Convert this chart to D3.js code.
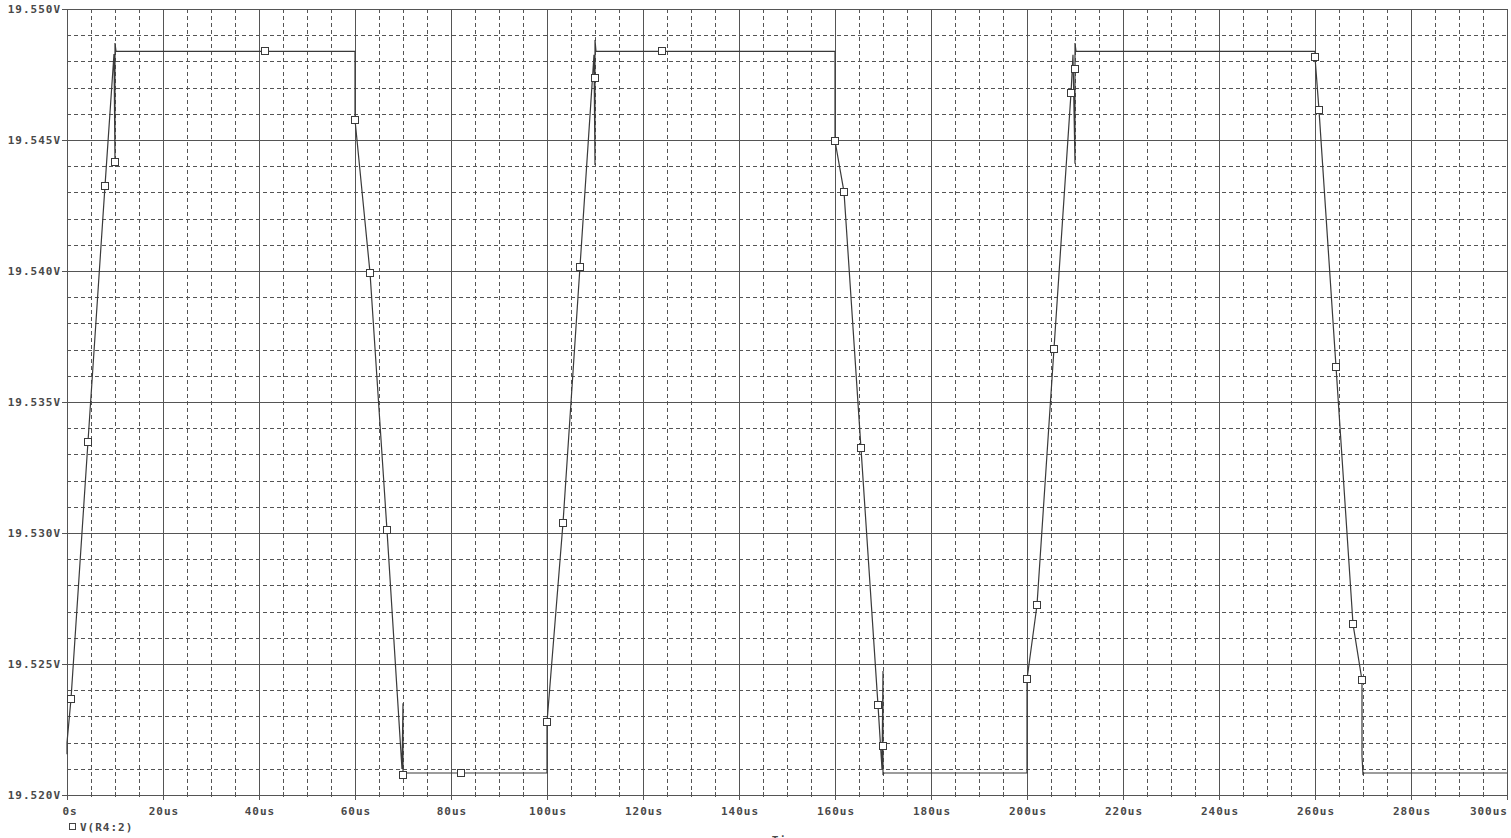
<!DOCTYPE html>
<html>
<head>
<meta charset="utf-8">
<script src="https://cdn.jsdelivr.net/npm/d3@7/dist/d3.min.js"></script>
<style>
  html, body { margin: 0; padding: 0; background: #fff; }
  svg { display: block; }
  text { font-family: "DejaVu Sans Mono", monospace; font-size: 11px; font-weight: bold; letter-spacing: 1px; fill: #484848; }
</style>
</head>
<body>
<svg id="chart" width="1511" height="838"></svg>
<script>
// ---- Data (time in microseconds, voltage in volts) ----
const timeUs = [
  0, 0, 0.83, 4.375, 7.917, 9.79, 10, 10, 10.21,
  60, 60, 63.125, 66.667, 69.79, 70, 70, 70.21,
  100, 100, 100, 103.33, 106.875, 109.79, 110, 110, 110, 110.21,
  160, 160, 161.875, 165.417, 168.958, 169.79, 170, 170, 170, 170.21,
  200, 200, 200, 202.08, 205.625, 209.17, 209.58, 210, 210, 210, 210.21,
  260, 260, 260.83, 264.375, 267.92, 269.79, 269.79, 270, 270.21,
  300
];
const volts = [
  19.52156, 19.52200, 19.52366, 19.53349, 19.54325, 19.54828, 19.54417, 19.54870, 19.54838,
  19.54838, 19.54577, 19.53994, 19.53010, 19.52099, 19.52350, 19.52076, 19.52084,
  19.52084, 19.52156, 19.52278, 19.53037, 19.54017, 19.54825, 19.54405, 19.54737, 19.54882, 19.54838,
  19.54838, 19.54497, 19.54302, 19.53323, 19.52343, 19.52099, 19.52473, 19.52187, 19.52076, 19.52084,
  19.52084, 19.52156, 19.52442, 19.52724, 19.53704, 19.54680, 19.54825, 19.54409, 19.54771, 19.54870, 19.54838,
  19.54838, 19.54817, 19.54615, 19.53635, 19.52652, 19.52438, 19.52149, 19.52076, 19.52084,
  19.52084
];
// symbol markers placed on the trace
const markerTimeUs = [0.83, 4.375, 7.917, 10, 41.25, 60, 63.125, 66.667, 70, 82.08,
  100, 103.33, 106.875, 110, 123.96, 160, 161.875, 165.417, 168.958, 170,
  200, 202.08, 205.625, 209.17, 210, 260, 260.83, 264.375, 267.92, 269.79];
const markerVolts = [19.52366, 19.53349, 19.54325, 19.54417, 19.54838, 19.54577, 19.53994, 19.53010, 19.52076, 19.52084,
  19.52278, 19.53037, 19.54017, 19.54737, 19.54838, 19.54497, 19.54302, 19.53323, 19.52343, 19.52187,
  19.52442, 19.52724, 19.53704, 19.54680, 19.54771, 19.54817, 19.54615, 19.53635, 19.52652, 19.52438];

const xTickValues = [0, 20, 40, 60, 80, 100, 120, 140, 160, 180, 200, 220, 240, 260, 280, 300];
const xTickLabels = ["0s", "20us", "40us", "60us", "80us", "100us", "120us", "140us", "160us", "180us", "200us", "220us", "240us", "260us", "280us", "300us"];
const yTickValues = [19.520, 19.525, 19.530, 19.535, 19.540, 19.545, 19.550];
const yTickLabels = ["19.520V", "19.525V", "19.530V", "19.535V", "19.540V", "19.545V", "19.550V"];
const seriesName = "V(R4:2)";
const xTitle = "Time";

// ---- Layout ----
const L = 67, R = 1507, T = 9, B = 795;
const gridColor = "#555";
const traceColor = "#3a3a3a";

const svg = d3.select("#chart");
const x = d3.scaleLinear().domain([0, 300]).range([L, R]);
const y = d3.scaleLinear().domain([19.520, 19.550]).range([B, T]);
const px = v => Math.round(v) + 0.5;

// minor grid
const minorX = d3.range(0, 301, 5).filter(t => t % 20 !== 0);
const minorY = d3.range(0, 31, 1).filter(i => i % 5 !== 0).map(i => 19.520 + i * 0.001);
const g = svg.append("g").attr("shape-rendering", "crispEdges");
g.selectAll(".mx").data(minorX).join("line")
  .attr("x1", d => px(x(d))).attr("x2", d => px(x(d)))
  .attr("y1", T).attr("y2", B)
  .attr("stroke", gridColor).attr("stroke-dasharray", "4,3");
g.selectAll(".my").data(minorY).join("line")
  .attr("x1", L).attr("x2", R)
  .attr("y1", d => px(y(d))).attr("y2", d => px(y(d)))
  .attr("stroke", gridColor).attr("stroke-dasharray", "4,3");
// major grid
g.selectAll(".Mx").data(xTickValues).join("line")
  .attr("x1", d => px(x(d))).attr("x2", d => px(x(d)))
  .attr("y1", T).attr("y2", B)
  .attr("stroke", gridColor);
g.selectAll(".My").data(yTickValues).join("line")
  .attr("x1", L).attr("x2", R)
  .attr("y1", d => px(y(d))).attr("y2", d => px(y(d)))
  .attr("stroke", gridColor);
// frame
g.append("rect").attr("x", px(L)).attr("y", px(T))
  .attr("width", Math.round(R) - Math.round(L)).attr("height", Math.round(B) - Math.round(T))
  .attr("fill", "none").attr("stroke", gridColor);

// x-axis ticks
const allX = d3.range(0, 301, 5);
g.selectAll(".tx").data(allX).join("line")
  .attr("x1", d => px(x(d))).attr("x2", d => px(x(d)))
  .attr("y1", d => d % 20 === 0 ? B - 5 : B - 3)
  .attr("y2", d => d % 20 === 0 ? B + 5 : B + 2)
  .attr("stroke", gridColor);
// y-axis ticks
g.selectAll(".ty").data(yTickValues).join("line")
  .attr("x1", L - 5).attr("x2", L)
  .attr("y1", d => px(y(d))).attr("y2", d => px(y(d)))
  .attr("stroke", gridColor);

// tick labels
svg.selectAll(".xl").data(xTickValues).join("text")
  .attr("x", (d, i) => i === xTickValues.length - 1 ? R + 1 : x(d) + (i === 0 ? 3 : 1))
  .attr("y", 815)
  .attr("text-anchor", (d, i) => i === xTickValues.length - 1 ? "end" : "middle")
  .text((d, i) => xTickLabels[i]);
svg.selectAll(".yl").data(yTickValues).join("text")
  .attr("x", 61)
  .attr("y", d => y(d) + 4)
  .attr("text-anchor", "end")
  .text((d, i) => yTickLabels[i]);

// trace
const pts = timeUs.map((t, i) => [t, volts[i]]);
svg.append("path")
  .datum(pts)
  .attr("d", d3.line().x(d => x(d[0])).y(d => y(d[1])))
  .attr("fill", "none").attr("stroke", traceColor).attr("stroke-width", 1.2);

// markers
const mk = markerTimeUs.map((t, i) => [t, markerVolts[i]]);
svg.selectAll(".mk").data(mk).join("rect")
  .attr("x", d => Math.round(x(d[0])) - 3.5)
  .attr("y", d => Math.round(y(d[1])) - 3.5)
  .attr("width", 7).attr("height", 7)
  .attr("fill", "#fff").attr("stroke", traceColor).attr("stroke-width", 1)
  .attr("shape-rendering", "crispEdges");

// legend
svg.append("rect").attr("x", 69.5).attr("y", 823.5).attr("width", 6).attr("height", 6)
  .attr("fill", "#fff").attr("stroke", "#444").attr("shape-rendering", "crispEdges");
svg.append("text").attr("x", 80).attr("y", 831).text(seriesName);

// axis title (partly cut off at bottom, as in the original)
svg.append("text").attr("x", (L + R) / 2).attr("y", 844).attr("text-anchor", "middle").text(xTitle);
</script>
</body>
</html>
